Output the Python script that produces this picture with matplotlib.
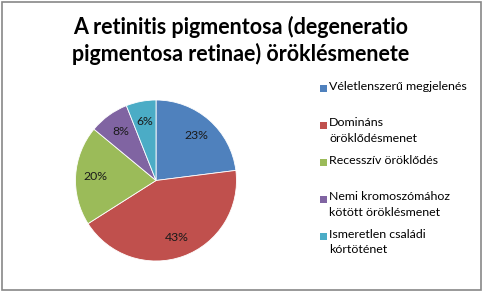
import matplotlib
matplotlib.use("Agg")
import matplotlib.pyplot as plt
from matplotlib.patches import Rectangle

title = "A retinitis pigmentosa (degeneratio\npigmentosa retinae) öröklésmenete"
labels = ["Véletlenszerű megjelenés", "Domináns\nöröklődésmenet", "Recesszív öröklődés",
          "Nemi kromoszómához\nkötött öröklésmenet", "Ismeretlen családi\nkórtöténet"]
values = [23, 43, 20, 8, 6]
colors = ["#4F81BD", "#C0504D", "#9BBB59", "#8064A2", "#4BACC6"]

W, H = 483, 291
fig = plt.figure(figsize=(W / 100, H / 100), dpi=100)
fig.patch.set_facecolor("white")
plt.rcParams['font.family'] = ['Lato', 'DejaVu Sans']

# border
fig.add_artist(Rectangle((1.5 / W, 1.5 / H), (W - 3.5) / W, (H - 3.5) / H,
                         transform=fig.transFigure, fill=False, edgecolor="#878787", lw=1.2))

for j, line in enumerate(title.split("\n")):
    fig.text(241 / W, 1 - (34 + 27 * j) / H, line, ha="center", va="baseline",
             fontsize=15.5, fontweight="bold", color="black")

cx, cy, r = 156, 180.5, 80.5
ax = fig.add_axes([(cx - r) / W, 1 - (cy + r) / H, 2 * r / W, 2 * r / H])
wedges, texts, autotexts = ax.pie(values, colors=colors, startangle=90, counterclock=False,
                                  autopct=lambda p: f"{p:.0f}%", pctdistance=0.75,
                                  wedgeprops=dict(linewidth=0.6, edgecolor="white"),
                                  textprops=dict(fontsize=8.8, color="#1a1a1a"))
ax.set_xlim(-1, 1)
ax.set_ylim(-1, 1)
ax.set_aspect("equal")
ax.axis("off")

y0, step = 88, 37
for i, (lab, col) in enumerate(zip(labels, colors)):
    y = y0 + i * step
    fig.add_artist(Rectangle((320 / W, 1 - (y + 3.5) / H), 7 / W, 7 / H,
                             transform=fig.transFigure, facecolor=col, edgecolor="none"))
    fig.text(329 / W, 1 - (y - 7.5) / H, lab, ha="left", va="top", fontsize=8.9,
             linespacing=1.45, color="black")

fig.savefig("out.png", dpi=100, facecolor="white")
